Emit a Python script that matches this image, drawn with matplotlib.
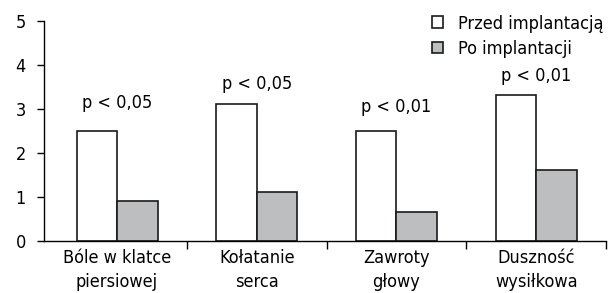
import numpy as np
import matplotlib.pyplot as plt

plt.rcParams['font.family'] = ['DejaVu Sans']
plt.rcParams['font.stretch'] = 'condensed'

categories = ['Bóle w klatce\npiersiowej', 'Kołatanie\nserca', 'Zawroty\ngłowy', 'Duszność\nwysiłkowa']
przed = [2.5, 3.1, 2.5, 3.3]
po = [0.9, 1.1, 0.65, 1.6]
pvals = ['p < 0,05', 'p < 0,05', 'p < 0,01', 'p < 0,01']
p_offset = [0.42, 0.25, 0.33, 0.24]

fig = plt.figure(figsize=(6.09, 2.93), dpi=100)
ax = fig.add_axes([0.0722, 0.179, 0.923, 0.751])

x = np.arange(len(categories))
w = 0.29
ax.bar(x, przed, width=-w, align='edge', color='white', edgecolor='#1a1a1a', linewidth=1.2,
       label='Przed implantacją')
ax.bar(x, po, width=w, align='edge', color='#bdbec0', edgecolor='#1a1a1a', linewidth=1.2,
       label='Po implantacji')

# p-values above each group
for i in range(len(categories)):
    ax.text(x[i], przed[i] + p_offset[i], pvals[i], ha='center', va='bottom', fontsize=13)

ax.set_xlim(-0.523, 3.5)
ax.set_ylim(0, 5)
ax.set_yticks([0, 1, 2, 3, 4, 5])
ax.set_xticks(x)
ax.set_xticklabels(categories, fontsize=13, linespacing=1.45)
ax.set_xticks(x + 0.5, minor=True)
ax.tick_params(axis='x', which='major', length=0, pad=6)
ax.tick_params(axis='x', which='minor', length=6, width=1, direction='out')
ax.tick_params(axis='y', length=5, width=1, labelsize=13, pad=8)

for s in ['top', 'right']:
    ax.spines[s].set_visible(False)
ax.spines['left'].set_linewidth(1)
ax.spines['bottom'].set_linewidth(1)

ax.legend(loc='upper left', bbox_to_anchor=(0.678, 1.06), frameon=False, fontsize=13,
          handlelength=0.6, handleheight=0.6, handletextpad=0.8, labelspacing=0.4,
          borderaxespad=0)

fig.savefig('out.png', dpi=100)
